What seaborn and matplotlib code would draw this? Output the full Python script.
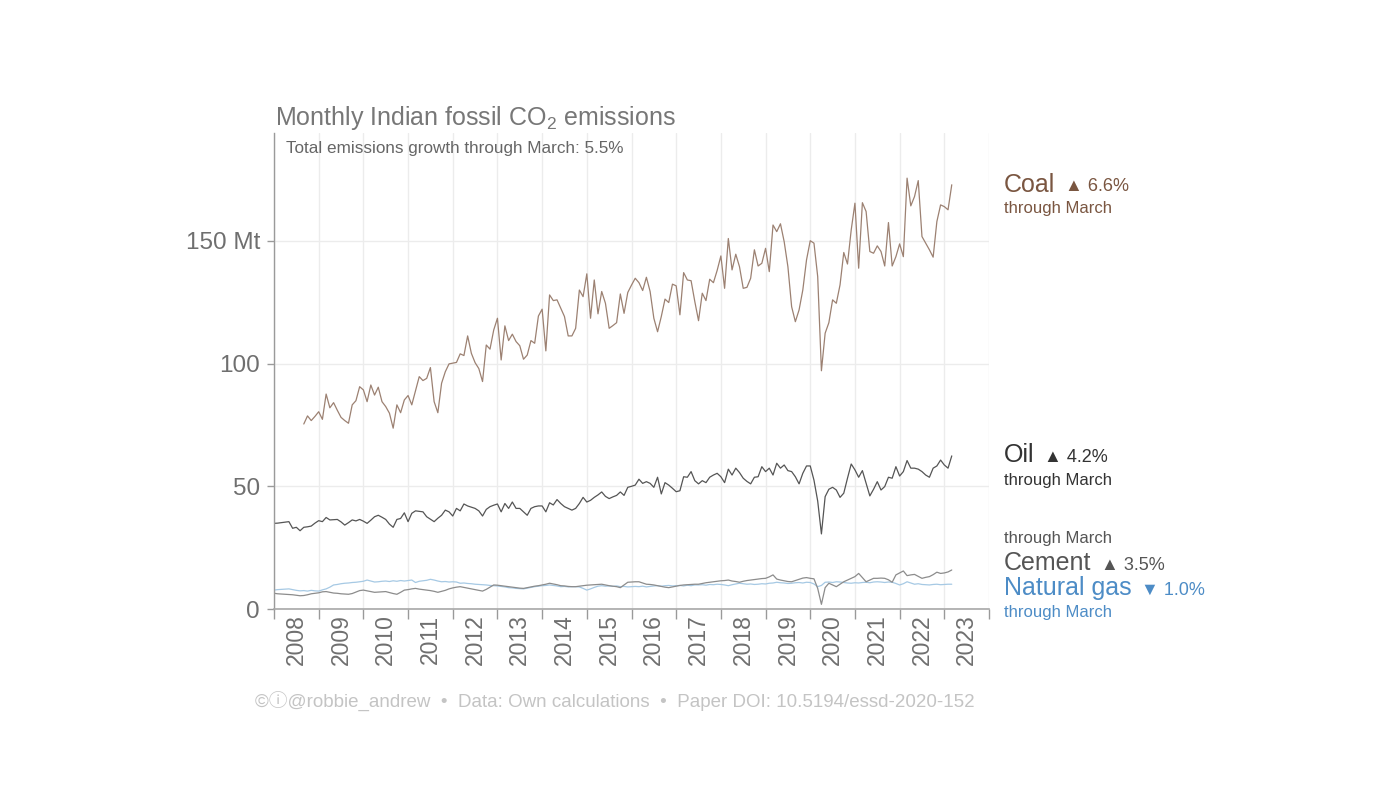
import numpy as np
import pandas as pd
import matplotlib
matplotlib.use("Agg")
import matplotlib.pyplot as plt
import seaborn as sns

# ---------------- data (Mt CO2 per month) ----------------
oil_start = "2008-01-01"
oil = [
    34.9, 35.0, 35.2, 35.4, 35.6, 32.9, 33.3, 31.9, 33.3, 33.5, 33.8, 35.0,
    36.0, 35.6, 37.3, 36.3, 36.4, 36.5, 35.5, 34.2, 35.2, 36.3, 35.9, 36.5,
    35.8, 34.9, 36.2, 37.6, 38.2, 37.4, 36.5, 34.6, 33.3, 36.5, 36.9, 39.2,
    35.6, 39.0, 40.0, 39.8, 39.6, 37.6, 36.6, 35.6, 37.0, 38.2, 40.3, 39.6,
    37.9, 41.0, 40.0, 42.8, 42.0, 41.5, 41.0, 40.0, 37.9, 40.6, 41.7, 42.3,
    42.8, 39.6, 43.0, 41.0, 43.6, 41.0, 41.0, 39.6, 38.2, 41.0, 41.7, 42.0,
    42.0, 39.6, 43.3, 42.4, 44.6, 43.0, 41.7, 41.0, 40.3, 41.0, 43.0, 45.5,
    43.6, 44.3, 45.5, 46.5, 47.7, 45.9, 45.0, 45.7, 46.3, 47.7, 46.3, 49.6,
    50.0, 50.5, 52.9, 51.2, 51.9, 51.2, 49.6, 53.7, 46.9, 51.5, 50.5, 49.2,
    47.8, 48.2, 53.9, 53.7, 56.0, 52.3, 51.0, 52.3, 51.5, 53.7, 54.6, 55.3,
    53.9, 51.5, 57.0, 54.6, 57.4, 55.6, 53.3, 52.0, 51.0, 53.7, 53.9, 58.0,
    56.0, 57.4, 54.6, 59.4, 57.4, 58.7, 56.4, 56.0, 53.9, 51.0, 55.3, 58.3,
    58.3, 52.5, 44.0, 30.6, 45.8, 48.8, 49.6, 48.5, 45.5, 47.2, 53.3, 59.1,
    56.7, 53.7, 56.4, 51.2, 46.1, 48.8, 51.9, 48.5, 49.9, 53.7, 53.3, 58.0,
    54.2, 56.0, 60.5, 57.4, 57.4, 57.0, 56.0, 54.6, 53.7, 57.4, 58.3, 60.7,
    58.7, 57.4, 62.4,
]

coal_start = "2008-09-01"
coal = [
    75.4, 78.7, 76.8, 78.5,
    80.4, 77.3, 87.6, 82.0, 84.1, 81.0, 78.1, 76.8, 75.7, 83.2, 84.9, 90.6,
    89.3, 84.5, 91.3, 87.2, 90.4, 84.5, 82.5, 79.8, 73.7, 83.2, 80.0, 85.2,
    87.0, 83.2, 89.0, 94.7, 93.1, 94.0, 98.4, 84.5, 80.0, 92.0, 96.7, 99.9,
    100.2, 100.5, 104.0, 103.3, 111.3, 104.2, 100.4, 98.0, 92.7, 107.6, 105.9, 113.7,
    118.5, 101.5, 115.4, 109.4, 112.0, 109.0, 107.3, 101.8, 103.5, 109.4, 108.3, 119.4,
    122.2, 105.2, 128.0, 125.7, 126.0, 122.6, 119.2, 111.3, 111.3, 114.4, 130.0, 127.3,
    136.6, 118.5, 134.1, 120.3, 129.4, 124.6, 114.4, 115.5, 116.7, 128.4, 120.5, 129.0,
    132.0, 134.8, 133.0, 129.8, 135.2, 129.4, 118.5, 113.0, 119.2, 126.3, 124.9, 132.4,
    131.7, 119.9, 137.1, 134.1, 133.8, 125.3, 117.5, 128.7, 125.7, 134.4, 133.0, 138.0,
    143.9, 130.7, 151.0, 138.2, 144.6, 139.5, 130.7, 131.1, 134.8, 146.4, 139.8, 140.9,
    147.0, 137.5, 156.5, 153.8, 157.0, 149.7, 139.5, 123.2, 117.1, 121.9, 130.0, 142.3,
    150.1, 149.1, 135.5, 97.1, 112.4, 116.7, 126.0, 124.6, 132.1, 145.3, 140.6, 154.5,
    165.4, 138.9, 165.6, 162.0, 145.7, 145.0, 148.0, 145.7, 139.8, 157.5, 139.8, 143.6,
    148.8, 143.6, 175.6, 164.3, 168.1, 174.6, 151.8, 149.1, 146.4, 143.4, 157.9, 164.7,
    164.0, 162.7, 172.9,
]

cement_start = "2008-01-01"
cement = [
    6.4, 6.2, 6.1, 6.0, 5.9, 5.8, 5.6, 5.4, 5.5, 5.8, 6.2, 6.4,
    6.6, 7.0, 7.1, 6.8, 6.5, 6.4, 6.2, 6.1, 6.0, 6.3, 6.9, 7.5,
    7.7, 7.4, 7.1, 6.8, 6.9, 7.0, 7.1, 6.7, 6.3, 6.0, 6.8, 7.7,
    7.9, 8.2, 8.4, 8.1, 7.9, 7.7, 7.5, 7.2, 6.8, 7.2, 7.6, 8.2,
    8.6, 8.9, 9.1, 8.8, 8.5, 8.2, 7.9, 7.6, 7.3, 8.0, 8.9, 9.8,
    9.7, 9.5, 9.3, 9.1, 8.9, 8.7, 8.5, 8.4, 8.7, 9.0, 9.3, 9.5,
    9.8, 10.1, 10.5, 10.2, 9.9, 9.5, 9.4, 9.2, 9.1, 9.1, 9.3, 9.5,
    9.7, 9.8, 9.9, 10.0, 10.1, 9.8, 9.5, 9.3, 9.1, 8.7, 9.8, 10.9,
    11.0, 11.1, 11.1, 10.6, 10.1, 10.0, 9.8, 9.5, 9.2, 8.9, 8.7, 9.0,
    9.3, 9.6, 9.8, 9.9, 10.0, 10.1, 10.1, 10.4, 10.7, 10.9, 11.1, 11.3,
    11.5, 11.6, 11.8, 11.4, 11.2, 10.9, 11.3, 11.6, 11.8, 12.0, 12.2, 12.4,
    12.5, 13.1, 13.9, 12.2, 11.8, 11.5, 11.2, 11.1, 11.6, 12.1, 12.6, 12.8,
    12.5, 12.3, 8.4, 1.9, 8.7, 10.5, 9.8, 9.1, 10.1, 11.1, 11.8, 12.5,
    13.2, 14.5, 12.8, 11.1, 11.8, 12.5, 12.5, 12.6, 12.5, 11.9, 10.9, 13.9,
    14.7, 15.5, 13.6, 13.9, 14.1, 13.3, 12.5, 12.9, 13.2, 14.0, 15.0, 14.5,
    14.7, 15.1, 15.9,
]

gas_start = "2008-01-01"
gas = [
    7.7, 7.9, 8.0, 8.1, 8.2, 7.9, 7.6, 7.4, 7.5, 7.3, 7.6, 7.4,
    7.3, 7.8, 8.2, 8.9, 9.8, 10.0, 10.3, 10.5, 10.6, 10.8, 10.9, 11.1,
    11.3, 11.8, 11.4, 11.0, 11.1, 11.3, 11.4, 11.2, 11.5, 11.3, 11.6, 11.4,
    11.6, 11.8, 10.8, 11.3, 11.5, 11.7, 12.1, 11.8, 11.4, 11.1, 11.2, 11.0,
    11.1, 11.0, 10.5, 10.6, 10.4, 10.3, 10.1, 10.0, 9.9, 9.8, 9.6, 9.5,
    9.4, 9.2, 9.0, 8.7, 8.6, 8.4, 8.3, 8.2, 8.5, 8.8, 9.1, 9.3,
    9.5, 9.6, 9.8, 9.6, 9.4, 9.1, 9.2, 9.0, 9.1, 9.1, 9.0, 8.4,
    7.7, 8.2, 8.8, 9.3, 9.5, 9.3, 9.4, 9.2, 9.4, 9.1, 9.2, 9.0,
    9.1, 9.2, 9.1, 9.3, 9.0, 9.2, 9.4, 9.5, 9.3, 9.5, 9.6, 9.4,
    9.5, 9.6, 9.4, 9.7, 9.5, 9.8, 9.8, 9.9, 9.7, 10.0, 9.9, 10.1,
    10.0, 9.8, 9.5, 9.9, 10.2, 10.5, 10.3, 10.1, 10.2, 10.0, 10.1, 10.3,
    10.2, 10.5, 10.6, 10.9, 10.7, 10.6, 10.4, 10.5, 10.7, 10.8, 10.6, 10.9,
    10.8, 10.2, 9.1, 9.6, 10.9, 11.0, 10.8, 11.1, 11.0, 10.8, 10.6, 10.5,
    10.7, 10.6, 10.8, 10.9, 10.7, 11.0, 11.1, 11.0, 10.8, 11.0, 10.9, 10.4,
    9.8, 10.3, 11.1, 10.6, 10.1, 10.3, 10.0, 9.9, 9.8, 10.0, 10.1, 9.9,
    10.0, 10.1, 10.1,
]

series_names = ["Natural gas", "Cement", "Oil", "Coal"]
year_labels = [str(y) for y in range(2008, 2024)]
y_ticks = [0, 50, 100, 150]
y_tick_labels = ["0", "50", "100", "150 Mt"]

# ---------------- build long table ----------------
def frame(name, start, values):
    d = pd.date_range(start, periods=len(values), freq="MS")
    t = d.year + (d.month - 1) / 12.0
    return pd.DataFrame({"t": t, "value": values, "series": name})

df = pd.concat([
    frame("Natural gas", gas_start, gas),
    frame("Cement", cement_start, cement),
    frame("Oil", oil_start, oil),
    frame("Coal", coal_start, coal),
], ignore_index=True)

line_colors = {"Coal": "#9c8172", "Oil": "#555555", "Cement": "#8c8c8c", "Natural gas": "#a6c9e4"}

# ---------------- figure ----------------
sns.set_theme(style="white")
plt.rcParams["font.family"] = ["Liberation Sans", "DejaVu Sans"]
plt.rcParams["mathtext.fontset"] = "custom"
plt.rcParams["mathtext.rm"] = "Liberation Sans"
plt.rcParams["mathtext.it"] = "Liberation Sans:italic"
plt.rcParams["mathtext.bf"] = "Liberation Sans:bold"

W, H = 1400, 800
fig = plt.figure(figsize=(W / 100, H / 100), dpi=100)
fig.patch.set_facecolor("white")
ax = fig.add_axes([274 / W, 1 - 609 / H, (989 - 274) / W, (609 - 133) / H])

sns.lineplot(data=df, x="t", y="value", hue="series", hue_order=series_names,
             palette=line_colors, estimator=None, linewidth=0.9, legend=False, ax=ax)

ax.set_xlim(2008, 2024)
ax.set_ylim(0, 194)
ax.set_xlabel("")
ax.set_ylabel("")

# x: year boundaries as major ticks (grid), labels centred in each year
ax.set_xticks(range(2008, 2025))
ax.set_xticklabels([])
ax.set_xticks([y + 0.5 for y in range(2008, 2024)], minor=True)
ax.set_xticklabels(year_labels, minor=True, rotation=90)
ax.tick_params(axis="x", which="major", length=7, width=1, color="#9a9a9a", direction="out", bottom=True)
ax.tick_params(axis="x", which="minor", length=0, labelsize=16.5, labelcolor="#6f6f6f", pad=4)

ax.set_yticks(y_ticks)
ax.set_yticklabels(y_tick_labels)
ax.tick_params(axis="y", length=5, width=1, color="#9a9a9a", direction="out", left=True,
               labelsize=17.5, labelcolor="#6f6f6f", pad=5)

ax.grid(True, which="major", color="#ececec", linewidth=1)
ax.set_axisbelow(True)
for s in ["top", "right"]:
    ax.spines[s].set_visible(False)
ax.spines["left"].set_color("#9a9a9a")
ax.spines["bottom"].set_color("#a8a8a8")
ax.spines["left"].set_linewidth(1)
ax.spines["bottom"].set_linewidth(1.2)

# titles
fig.text(275 / W, 1 - 118 / H, "Monthly Indian fossil CO$_2$ emissions", size=18,
         color="#777777", va="center", ha="left")
fig.text(286 / W, 1 - 149 / H, "Total emissions growth through March: 5.5%", size=12.3,
         color="#666666", va="center", ha="left")

# right-hand labels
def label(y_base, name, mark, pct, color, mark_color=None):
    t1 = fig.text(1004 / W, 1 - y_base / H, name, size=18, color=color, va="baseline", ha="left")
    ax.annotate(f"{mark} {pct}", xy=(1, 0), xycoords=t1, xytext=(7, 1.2),
                textcoords="offset points", va="bottom", ha="left", size=13,
                color=mark_color or color)
    return t1

def sub(y_base, color):
    fig.text(1004 / W, 1 - y_base / H, "through March", size=12, color=color, va="baseline", ha="left")

coal_c, oil_c, cem_c, gas_c = "#7a5641", "#333333", "#555555", "#4d8cc6"
label(191.5, "Coal", "▲", "6.6%", coal_c)
sub(213.5, coal_c)
label(462.5, "Oil", "▲", "4.2%", oil_c)
sub(484.5, oil_c)
sub(542.5, cem_c)
label(570.5, "Cement", "▲", "3.5%", cem_c)
label(595.5, "Natural gas", "▼", "1.0%", gas_c)
sub(617, gas_c)

# footer
fig.text(615 / W, 1 - 702 / H,
         "©ⓘ@robbie_andrew  •  Data: Own calculations  •  Paper DOI: 10.5194/essd-2020-152",
         size=13.5, color="#c4c4c4", ha="center", va="center",
         family=["Liberation Sans", "Noto Sans CJK JP", "DejaVu Sans"])

fig.savefig("out.png", dpi=100, facecolor="white")
